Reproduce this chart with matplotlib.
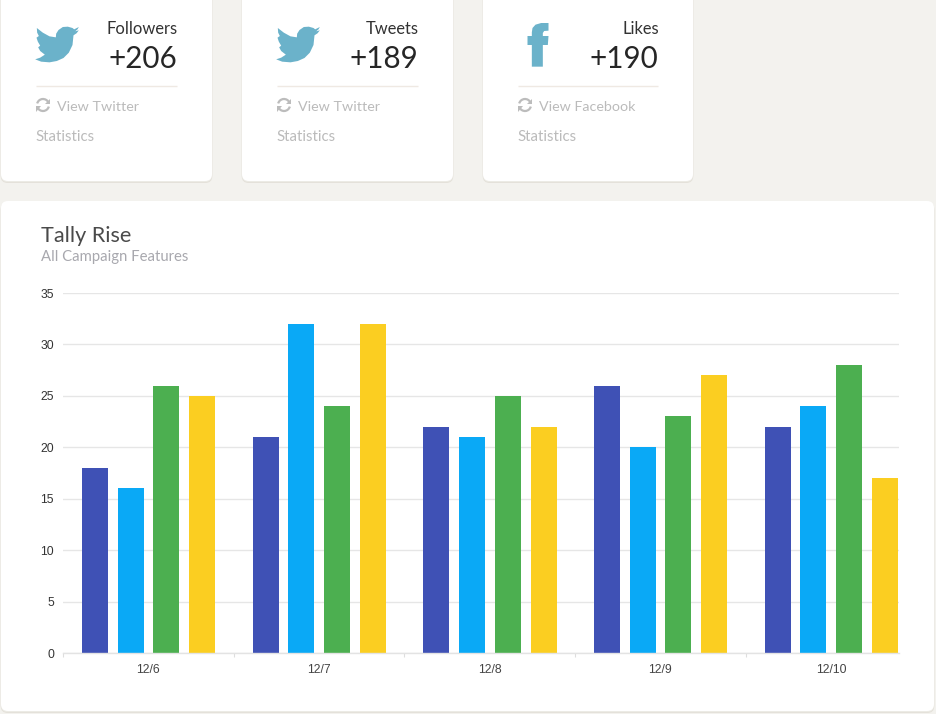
import matplotlib
matplotlib.use("Agg")
import matplotlib.pyplot as plt
from matplotlib.patches import FancyBboxPatch, Polygon, Arc
import numpy as np

W, H = 936, 714
categories = ["12/6", "12/7", "12/8", "12/9", "12/10"]
series_indigo = [18, 21, 22, 26, 22]
series_blue = [16, 32, 21, 20, 24]
series_green = [26, 24, 25, 23, 28]
series_yellow = [25, 32, 22, 27, 17]
series = [series_indigo, series_blue, series_green, series_yellow]
colors = ["#3f51b5", "#0aa9f6", "#4caf50", "#fbce21"]
y_ticks = [0, 5, 10, 15, 20, 25, 30, 35]

card_titles = ["Followers", "Tweets", "Likes"]
card_values = ["+206", "+189", "+190"]
card_links = ["View Twitter", "View Twitter", "View Facebook"]
card_left = [1, 242, 483]
card_right = [212, 453, 693]

BG = "#f3f2ee"
ICON = "#6bb2ca"
FONT = "Lato"

bird = np.array([(238, 81), (224, 88), (219, 84), (205, 80), (190, 81), (177, 90), (170, 101), (169, 112),
                 (150, 109), (130, 98), (112, 84), (113, 98), (118, 108), (111, 113), (115, 125), (122, 137),
                 (116, 142), (122, 153), (136, 164), (122, 173), (107, 178), (125, 185), (150, 187), (172, 183),
                 (192, 174), (208, 158), (219, 135), (222, 106), (231, 100), (238, 91), (227, 94), (234, 88)]) / 3.0
facebook = np.array([(207, 69), (185, 69), (168, 74), (159, 84), (157, 97), (157, 108), (144, 108), (144, 135),
                     (157, 135), (157, 200), (190, 200), (190, 135), (205, 135), (207, 108), (190, 108),
                     (190, 99), (194, 93), (207, 92)]) / 3.0 + np.array([480, 0])

fig = plt.figure(figsize=(W / 100, H / 100), dpi=100, facecolor=BG)
bg = fig.add_axes([0, 0, 1, 1], zorder=0)
bg.set_xlim(0, W)
bg.set_ylim(H, 0)
bg.axis("off")


def card(x0, y0, x1, y1):
    for dy, dx, col in [(2, 1, "#e4e1da"), (1, 0.5, "#ecebe5")]:
        bg.add_patch(FancyBboxPatch((x0 - dx * 0.3, y0 + dy), x1 - x0 + dx * 0.6, y1 - y0,
                                    boxstyle="round,pad=0,rounding_size=7", fc=col, ec="none"))
    bg.add_patch(FancyBboxPatch((x0, y0), x1 - x0, y1 - y0,
                                boxstyle="round,pad=0,rounding_size=7", fc="white", ec="none"))


def refresh(cx, cy):
    r = 6.0
    c = "#bcbcbc"
    bg.add_patch(Arc((cx, cy), 2 * r, 2 * r, theta1=195, theta2=335, lw=1.6, color=c))
    bg.add_patch(Arc((cx, cy), 2 * r, 2 * r, theta1=15, theta2=155, lw=1.6, color=c))
    bg.add_patch(Polygon([(cx + 7.3, cy - 6.5), (cx + 7.3, cy - 0.8), (cx + 1.8, cy - 0.8)], fc=c, ec="none"))
    bg.add_patch(Polygon([(cx - 7.3, cy + 6.5), (cx - 7.3, cy + 0.8), (cx - 1.8, cy + 0.8)], fc=c, ec="none"))


for i in range(3):
    x0, x1 = card_left[i], card_right[i]
    card(x0, -10, x1, 181)
    inner_left = x0 + 35
    inner_right = x1 - 35
    if i < 2:
        bg.add_patch(Polygon(bird + np.array([x0 - 1.5, 0]), closed=True, fc=ICON, ec="none"))
    else:
        bg.add_patch(Polygon(facebook - np.array([0.5, 0]), closed=True, fc=ICON, ec="none"))
    bg.text(inner_right + 1, 29, card_titles[i], ha="right", va="center", fontsize=11.9,
            family=FONT, color="#333333")
    bg.text(inner_right + 0.5, 59, card_values[i], ha="right", va="center", fontsize=21.3,
            family=FONT, color="#262626")
    bg.plot([inner_left - 0.5, inner_right - 0.5], [85.5, 85.5], color="#efe9e3", lw=1, solid_capstyle="butt")
    refresh(inner_left + 7, 105)
    bg.text(inner_left + 21, 107, card_links[i], ha="left", va="center", fontsize=10.3,
            family=FONT, color="#bbbbbb")
    bg.text(inner_left - 0.5, 137, "Statistics", ha="left", va="center", fontsize=10.8,
            family=FONT, color="#bbbbbb")

card(1, 201, 934, 711)
bg.text(41, 236, "Tally Rise", ha="left", va="center", fontsize=15.6, family=FONT, color="#4a4a4a")
bg.text(41, 257, "All Campaign Features", ha="left", va="center", fontsize=10.7, family=FONT,
        color="#a8a8ae")

# chart axes: each category spans 170.67 px, the plot area is cut off at x = 899
px_left, px_right, px_top, px_bottom = 63, 899, 293, 653
ax = fig.add_axes([px_left / W, 1 - px_bottom / H, (px_right - px_left) / W, (px_bottom - px_top) / H], zorder=1)
ax.patch.set_alpha(0)
group_px = 170.67
ax.set_xlim(0, (px_right - px_left) / group_px)
ax.set_ylim(0, 35)
width = 26 / group_px
step = 35.7 / group_px
nudge = 0.3 / group_px
for k, (vals, col) in enumerate(zip(series, colors)):
    xs = np.arange(len(categories)) + 0.5 + nudge + (k - 1.5) * step
    ax.bar(xs, vals, width=width, color=col, zorder=3)

ax.set_yticks(y_ticks)
ax.set_xticks(np.arange(len(categories)))
ax.set_xticklabels([])
ax.set_xticks(np.arange(len(categories)) + 0.5, labels=categories, minor=True)
ax.tick_params(axis="x", which="major", length=3.2, width=0.8, color="#dedede", direction="out")
ax.tick_params(axis="x", which="minor", length=0, pad=8, labelsize=8.7, labelcolor="#444444")
ax.tick_params(axis="y", length=0, pad=6.5, labelsize=8.7, labelcolor="#333333")
for lab in ax.get_xticklabels(minor=True) + ax.get_yticklabels():
    lab.set_family("Liberation Sans")
ax.grid(axis="y", color="#e6e6e6", lw=1, zorder=0)
for s in ["top", "right", "left"]:
    ax.spines[s].set_visible(False)
ax.spines["bottom"].set_color("#e3e3e3")
ax.spines["bottom"].set_linewidth(1)
ax.spines["bottom"].set_zorder(4)

fig.savefig("out.png", dpi=100, facecolor=BG)
